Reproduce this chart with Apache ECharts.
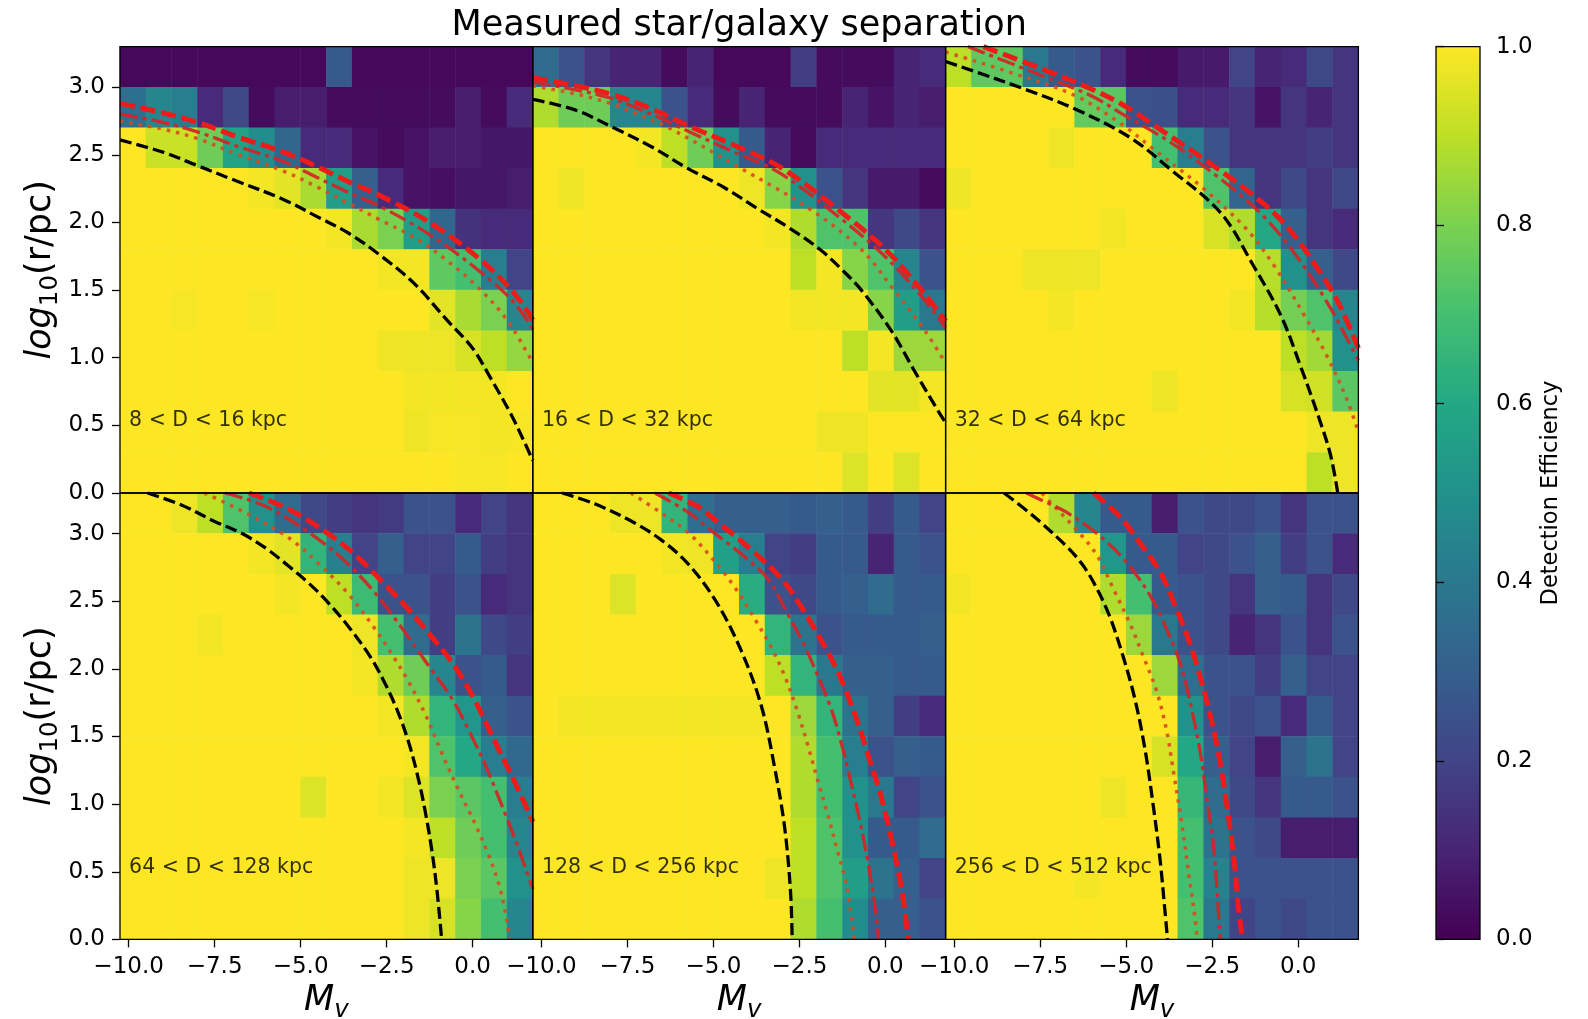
<!DOCTYPE html>
<html>
<head>
<meta charset="utf-8">
<script src="https://cdn.jsdelivr.net/npm/echarts@6/dist/echarts.min.js"></script>
<style>
  html, body { margin: 0; padding: 0; background: #fff; }
  #chart { width: 1588px; height: 1019px; }
</style>
</head>
<body>
<div id="chart"></div>
<script>
// ---------------------------------------------------------------
// Detection efficiency of star/galaxy separation, six distance bins
// ---------------------------------------------------------------

// Tick labels
const xTickValues = [-10, -7.5, -5, -2.5, 0];
const yTickValues = [0, 0.5, 1, 1.5, 2, 2.5, 3];
const cbarTickValues = [0, 0.2, 0.4, 0.6, 0.8, 1];

// Bin centres (Mv columns, log10 r rows)
const mvBinCenters = [-9.875, -9.125, -8.375, -7.625, -6.875, -6.125, -5.375, -4.625,
                      -3.875, -3.125, -2.375, -1.625, -0.875, -0.125, 0.625, 1.375];
const logrBinCenters = [0.15, 0.45, 0.75, 1.05, 1.35, 1.65, 1.95, 2.25, 2.55, 2.85, 3.15];

const panelLabels = ['8 < D < 16 kpc', '16 < D < 32 kpc', '32 < D < 64 kpc',
                     '64 < D < 128 kpc', '128 < D < 256 kpc', '256 < D < 512 kpc'];

// Efficiency grids, one row per log10 r bin, listed from the top bin (3.0-3.3) down to (0.0-0.3)
const effD8 = [
  [0.02,0.02,0.02,0.02,0.02,0.02,0.02,0.02,0.28,0.02,0.02,0.02,0.02,0.02,0.02,0.02],
  [0.36,0.45,0.42,0.12,0.22,0.03,0.08,0.08,0.03,0.03,0.03,0.03,0.03,0.08,0.03,0.12],
  [1.00,0.92,0.92,0.78,0.58,0.48,0.33,0.12,0.12,0.05,0.03,0.05,0.08,0.08,0.06,0.06],
  [1,1,1,1,1,0.985,0.96,0.87,0.55,0.30,0.12,0.05,0.04,0.06,0.06,0.08],
  [1,1,1,1,1,1,1,1,0.985,0.87,0.80,0.55,0.33,0.14,0.12,0.12],
  [1,1,1,1,1,1,1,1,1,1,0.985,0.985,0.75,0.70,0.42,0.20],
  [1,1,0.99,1,1,0.99,1,1,1,1,1,1,0.96,0.87,0.80,0.45],
  [1,1,1,1,1,1,1,1,1,1,0.98,0.975,0.975,0.94,0.90,0.84],
  [1,1,1,1,1,1,1,1,1,1,1,0.985,0.985,0.985,0.985,1],
  [1,1,1,1,1,1,1,1,1,1,1,0.98,0.99,0.99,0.985,0.99],
  [1,1,1,1,1,1,1,1,1,1,1,1,1,0.99,0.99,1]
];
const effD16 = [
  [0.35,0.25,0.15,0.10,0.10,0.03,0.10,0.02,0.02,0.02,0.18,0.03,0.03,0.03,0.10,0.12],
  [0.88,0.78,0.78,0.45,0.45,0.25,0.12,0.03,0.10,0.03,0.03,0.03,0.10,0.05,0.10,0.08],
  [1,1,1,1,0.985,0.90,0.78,0.50,0.28,0.10,0.03,0.12,0.12,0.12,0.12,0.12],
  [1,0.975,1,1,1,1,1,1,0.975,0.82,0.50,0.25,0.15,0.07,0.07,0.03],
  [1,1,1,1,1,1,1,1,1,0.985,0.88,0.72,0.72,0.16,0.22,0.15],
  [1,1,1,1,1,1,1,1,1,1,0.90,0.985,0.82,0.72,0.45,0.25],
  [1,1,1,1,1,1,1,1,1,1,0.985,0.985,0.985,0.82,0.55,0.40],
  [1,1,1,1,1,1,1,1,1,1,1,1,0.90,0.985,0.85,0.85],
  [1,1,1,1,1,1,1,1,1,1,1,1,1,0.96,0.96,0.985],
  [1,1,1,1,1,1,1,1,1,1,1,0.98,0.98,1,1,1],
  [1,1,1,1,1,1,1,1,1,1,1,1,0.95,1,0.95,1]
];
const effD32 = [
  [0.90,0.75,0.75,0.40,0.28,0.25,0.12,0.03,0.03,0.07,0.07,0.20,0.10,0.12,0.22,0.15],
  [1,1,1,1,1,0.76,0.74,0.25,0.24,0.12,0.12,0.15,0.05,0.15,0.10,0.15],
  [1,1,1,1,0.975,1,1,1,0.70,0.42,0.25,0.15,0.15,0.15,0.18,0.15],
  [0.975,1,1,1,1,1,1,1,1,1,0.72,0.32,0.15,0.22,0.15,0.22],
  [1,1,1,1,1,1,0.985,1,1,1,0.94,0.88,0.60,0.30,0.15,0.12],
  [1,1,1,0.975,0.975,0.975,1,1,1,1,1,1,0.89,0.50,0.30,0.22],
  [1,1,1,1,0.985,1,1,1,1,1,1,0.985,0.89,0.79,0.72,0.45],
  [1,1,1,1,1,1,1,1,1,1,1,1,1,0.90,0.86,0.50],
  [1,1,1,1,1,1,1,1,0.975,1,1,1,1,0.94,0.93,0.74],
  [1,1,1,1,1,1,1,1,1,1,1,1,1,1,0.975,0.975],
  [1,1,1,1,1,1,1,1,1,1,1,1,1,1,0.90,0.975]
];
const effD64 = [
  [1,1,0.975,0.90,0.72,0.50,0.35,0.22,0.18,0.15,0.17,0.25,0.25,0.12,0.20,0.15],
  [1,1,1,1,1,0.985,0.96,0.65,0.43,0.20,0.30,0.20,0.20,0.28,0.18,0.15],
  [1,1,1,1,1,1,0.985,1,0.90,0.68,0.25,0.25,0.18,0.25,0.12,0.15],
  [1,1,1,0.985,1,1,1,1,1,0.975,0.70,0.35,0.18,0.38,0.22,0.18],
  [1,1,1,1,1,1,1,1,1,0.985,0.88,0.78,0.45,0.25,0.28,0.15],
  [1,1,1,1,1,1,1,1,1,1,0.985,0.88,0.65,0.52,0.30,0.25],
  [1,1,1,1,1,1,1,1,1,1,1,0.985,0.72,0.60,0.42,0.34],
  [1,1,1,1,1,1,1,0.95,1,1,0.985,0.95,0.80,0.74,0.70,0.42],
  [1,1,1,1,1,1,1,1,1,1,1,0.985,0.90,0.78,0.70,0.45],
  [1,1,1,1,1,1,1,1,1,1,1,0.975,0.975,0.80,0.74,0.50],
  [1,1,1,1,1,1,1,1,1,1,1,0.975,0.94,0.82,0.70,0.46]
];
const effD128 = [
  [1,1,1,0.975,0.975,0.65,0.36,0.30,0.30,0.30,0.28,0.30,0.28,0.18,0.28,0.20],
  [1,1,1,1,1,0.985,0.98,0.56,0.42,0.20,0.18,0.28,0.28,0.10,0.28,0.25],
  [1,1,1,0.95,1,1,1,1,0.62,0.25,0.22,0.28,0.30,0.35,0.28,0.28],
  [1,1,1,1,1,1,1,1,1,0.65,0.38,0.25,0.28,0.28,0.28,0.30],
  [1,1,1,1,1,1,1,1,1,0.90,0.65,0.40,0.30,0.30,0.28,0.28],
  [1,0.985,0.985,0.985,0.985,0.985,0.985,0.985,0.985,1,0.85,0.65,0.38,0.30,0.18,0.12],
  [1,1,1,1,1,1,1,1,1,1,0.88,0.70,0.42,0.25,0.30,0.28],
  [1,1,1,1,1,1,1,1,1,1,0.88,0.70,0.50,0.40,0.20,0.25],
  [1,1,1,1,1,1,1,1,1,1,0.90,0.72,0.50,0.28,0.28,0.35],
  [1,1,1,1,1,1,1,1,1,0.975,0.90,0.72,0.55,0.38,0.30,0.20],
  [1,1,1,1,1,1,1,1,1,1,0.88,0.70,0.48,0.30,0.30,0.25]
];
const effD256 = [
  [1,1,1,1,0.88,0.45,0.28,0.28,0.08,0.25,0.22,0.22,0.25,0.15,0.25,0.25],
  [1,1,1,1,1,1,0.52,0.28,0.28,0.20,0.22,0.25,0.30,0.18,0.25,0.12],
  [0.985,1,1,1,1,1,0.88,0.70,0.28,0.25,0.22,0.15,0.30,0.28,0.15,0.22],
  [1,1,1,1,1,1,1,0.85,0.40,0.25,0.22,0.10,0.15,0.25,0.15,0.25],
  [1,1,1,1,1,1,1,1,0.85,0.36,0.25,0.25,0.18,0.30,0.20,0.20],
  [1,1,1,1,1,1,1,1,1,0.50,0.25,0.22,0.25,0.12,0.28,0.20],
  [1,1,1,1,1,1,1,1,0.94,0.60,0.30,0.20,0.08,0.30,0.38,0.20],
  [1,1,1,1,1,1,0.975,1,1,0.66,0.35,0.22,0.15,0.28,0.28,0.25],
  [1,1,1,1,1,1,1,1,1,0.70,0.38,0.25,0.22,0.08,0.08,0.08],
  [1,1,1,1,1,0.985,1,1,1,0.70,0.44,0.25,0.25,0.25,0.25,0.25],
  [1,1,1,1,1,1,1,1,1,0.72,0.40,0.20,0.25,0.22,0.25,0.25]
];

// Limit curves per distance bin, as [Mv, log10 r] points
const blackDashed = [
  [[-10.25,2.61],[-9,2.52],[-8,2.42],[-7,2.32],[-5.5,2.17],[-4.5,2.04],[-3.6,1.92],[-2.7,1.76],[-1.7,1.55],[-0.75,1.28],[0,1.07],[0.5,0.86],[1.1,0.59],[1.5,0.38],[1.75,0.24]],
  [[-10.25,2.91],[-9,2.83],[-7.9,2.7],[-6.8,2.56],[-5.75,2.4],[-4.7,2.26],[-3.7,2.1],[-2.8,1.96],[-1.9,1.8],[-1.3,1.66],[-0.7,1.5],[0.17,1.2],[0.85,0.9],[1.55,0.6],[1.75,0.52]],
  [[-10.25,3.19],[-9.45,3.12],[-8,2.99],[-6.5,2.84],[-4.9,2.63],[-3.7,2.39],[-2.25,2.07],[-1.3,1.68],[-0.5,1.31],[0.05,0.95],[0.65,0.52],[0.95,0.27],[1.15,0.0]],
  [[-9.45,3.3],[-8.45,3.21],[-7.5,3.09],[-6.7,3.0],[-6.0,2.89],[-5.35,2.76],[-4.75,2.63],[-4.2,2.49],[-3.6,2.31],[-3.0,2.1],[-2.6,1.92],[-2.2,1.7],[-1.85,1.45],[-1.57,1.18],[-1.38,0.95],[-1.18,0.65],[-1.03,0.35],[-0.9,0.0]],
  [[-9.4,3.3],[-8.45,3.22],[-7.3,3.08],[-6.5,2.95],[-5.75,2.78],[-4.95,2.51],[-4.2,2.14],[-3.6,1.72],[-3.22,1.27],[-2.93,0.83],[-2.76,0.36],[-2.71,0.0]],
  [[-8.55,3.3],[-7.7,3.13],[-6.75,2.91],[-6.3,2.78],[-5.95,2.64],[-5.5,2.4],[-5.1,2.1],[-4.75,1.78],[-4.45,1.4],[-4.22,1.0],[-4.02,0.6],[-3.88,0.23],[-3.8,0.0]]
];
const redDotted = [
  [[-10.25,2.75],[-9,2.69],[-8,2.62],[-6.8,2.5],[-5.5,2.38],[-4.5,2.26],[-3.6,2.14],[-2.7,2.02],[-1.7,1.89],[-0.75,1.72],[0.2,1.51],[1.0,1.28],[1.58,1.04],[1.75,0.96]],
  [[-10.25,3.01],[-9,2.95],[-8,2.88],[-7.2,2.8],[-6.3,2.7],[-4.2,2.4],[-2.2,2.1],[-0.7,1.8],[0.25,1.5],[1.15,1.2],[1.75,0.96]],
  [[-10.25,3.26],[-8.5,3.12],[-6.5,2.94],[-5.1,2.72],[-4.2,2.54],[-2.75,2.25],[-1.5,1.95],[-0.7,1.68],[0.14,1.33],[0.84,1.01],[1.42,0.69],[1.75,0.45]],
  [[-7.8,3.3],[-6.5,3.14],[-5.35,2.97],[-4.4,2.76],[-3.6,2.55],[-2.85,2.3],[-2.35,2.11],[-1.85,1.9],[-1.35,1.65],[-0.9,1.38],[-0.4,1.1],[0.08,0.85],[0.47,0.62],[0.76,0.41],[0.95,0.2],[1.08,0.0]],
  [[-7.4,3.3],[-6.5,3.15],[-5.7,3.0],[-4.95,2.79],[-4.4,2.61],[-3.8,2.37],[-3.3,2.15],[-2.9,1.93],[-2.55,1.68],[-2.25,1.43],[-1.95,1.16],[-1.65,0.9],[-1.4,0.66],[-1.18,0.46],[-1.04,0.26],[-0.9,0.0]],
  [[-7.45,3.3],[-7.2,3.23],[-6.45,3.03],[-5.85,2.84],[-5.37,2.59],[-4.9,2.34],[-4.5,2.09],[-4.12,1.84],[-3.83,1.55],[-3.62,1.23],[-3.38,0.85],[-3.18,0.48],[-3.0,0.16],[-2.94,0.0]]
];
const redDashDot = [
  [[-10.25,2.80],[-9,2.74],[-8,2.67],[-6.8,2.56],[-5.5,2.45],[-4.5,2.33],[-3.6,2.22],[-2.7,2.12],[-1.25,1.91],[0.2,1.64],[1.2,1.41],[1.75,1.21]],
  [[-10.25,3.04],[-9,2.98],[-8,2.92],[-6.8,2.8],[-5.7,2.67],[-4.4,2.52],[-3.1,2.37],[-1.5,2.07],[-0.1,1.77],[1.0,1.47],[1.75,1.22]],
  [[-9.6,3.3],[-7.5,3.09],[-6.05,2.94],[-5.1,2.8],[-3.7,2.59],[-2.25,2.32],[-1.1,2.07],[-0.13,1.78],[0.84,1.41],[1.4,1.15],[1.75,0.98]],
  [[-7.2,3.3],[-6.0,3.2],[-4.6,2.98],[-3.6,2.77],[-2.8,2.55],[-2.05,2.3],[-1.3,2.03],[-0.6,1.78],[-0.1,1.54],[0.4,1.27],[0.85,0.99],[1.25,0.73],[1.6,0.48],[1.75,0.37]],
  [[-6.7,3.3],[-5.75,3.16],[-4.95,3.0],[-4.1,2.83],[-3.4,2.66],[-2.85,2.41],[-2.35,2.17],[-1.95,1.94],[-1.57,1.7],[-1.28,1.45],[-0.99,1.15],[-0.72,0.85],[-0.5,0.56],[-0.32,0.28],[-0.2,0.0]],
  [[-7.9,3.3],[-7.4,3.24],[-6.75,3.16],[-5.75,2.98],[-5.0,2.79],[-4.3,2.54],[-3.82,2.29],[-3.43,2.04],[-3.14,1.75],[-2.86,1.4],[-2.66,1.05],[-2.47,0.71],[-2.36,0.36],[-2.27,0.0]]
];
const redDashed = [
  [[-10.25,2.88],[-9,2.81],[-8,2.74],[-6.8,2.63],[-5.5,2.52],[-4.5,2.41],[-3.6,2.3],[-2.7,2.2],[-1.25,2.0],[0.2,1.73],[1.2,1.48],[1.75,1.28]],
  [[-10.25,3.07],[-9,3.01],[-8,2.95],[-6.8,2.84],[-5.6,2.7],[-4.3,2.56],[-3.0,2.4],[-1.4,2.1],[0,1.8],[1.05,1.5],[1.75,1.27]],
  [[-9.15,3.3],[-7.5,3.14],[-6.05,2.99],[-5.1,2.87],[-4.2,2.72],[-2.75,2.47],[-1.3,2.2],[-0.33,1.97],[0.64,1.63],[1.22,1.38],[1.75,1.07]],
  [[-6.5,3.3],[-5.35,3.18],[-4.2,3.0],[-3.4,2.84],[-2.65,2.65],[-1.9,2.45],[-1.2,2.24],[-0.55,2.03],[0,1.8],[0.35,1.62],[0.75,1.41],[1.25,1.15],[1.75,0.87]],
  [[-6.3,3.3],[-5.45,3.2],[-4.95,3.1],[-3.9,2.88],[-3.0,2.66],[-2.45,2.46],[-2.0,2.27],[-1.5,2.04],[-1.15,1.84],[-0.8,1.6],[-0.5,1.36],[-0.15,1.08],[0.15,0.77],[0.4,0.47],[0.55,0.24],[0.66,0.0]],
  [[-5.95,3.3],[-5.2,3.13],[-4.6,2.93],[-4.0,2.71],[-3.55,2.45],[-3.15,2.19],[-2.85,1.94],[-2.55,1.65],[-2.3,1.35],[-2.08,1.0],[-1.88,0.62],[-1.74,0.24],[-1.62,0.0]]
];

// ---------------------------------------------------------------
// Layout and styling
// ---------------------------------------------------------------
const FONT = 'DejaVu Sans';
const VIRIDIS = ['#440154', '#482475', '#414487', '#355f8d', '#2a788e', '#21918c',
                 '#22a884', '#44bf70', '#7ad151', '#bddf26', '#fde725'];

const PANEL_W = 412.8, PANEL_H = 446.4, LEFT0 = 120, TOP0 = 46.6;
const CBAR = { left: 1436, top: TOP0, width: 44, height: 2 * PANEL_H };
const MV_RANGE = [-10.25, 1.75];
const LOGR_RANGE = [0, 3.3];
const LABEL_ANCHOR = [-10, 0.5];

const effPanels = [effD8, effD16, effD32, effD64, effD128, effD256];

const curveStyles = [
  { curves: blackDashed, color: '#000000', width: 3.3, dash: [12, 5] },
  { curves: redDotted,   color: 'rgba(218,72,30,0.9)', width: 3.5, dash: [3.5, 6] },
  { curves: redDashDot,  color: 'rgba(212,36,38,0.92)', width: 3.3, dash: [18, 5, 4, 5] },
  { curves: redDashed,   color: '#ee1b1b', width: 5, dash: [15, 6] }
];

const fmtTick = v => (v < 0 ? '\u2212' : '') + Math.abs(v).toFixed(1);

const labelText = { fontFamily: FONT, fontSize: 23, color: '#000' };
const tickLine = { color: '#000', width: 1.3 };

const yName = '{i|log}{s|10}{n|(r/pc)}';
const xName = '{i|M}{s|v}';
const mathRich = {
  i: { fontFamily: FONT, fontStyle: 'italic', fontSize: 35, lineHeight: 44, color: '#000' },
  n: { fontFamily: FONT, fontSize: 35, lineHeight: 44, color: '#000' },
  s: { fontFamily: FONT, fontSize: 24.5, lineHeight: 22, verticalAlign: 'bottom', color: '#000' }
};
const mathRichItalicSub = Object.assign({}, mathRich, {
  s: Object.assign({}, mathRich.s, { fontStyle: 'italic' })
});

const grids = [], xAxes = [], yAxes = [], series = [], heatmapIdx = [];

for (let p = 0; p < 6; p++) {
  const row = Math.floor(p / 3), col = p % 3;
  grids.push({
    left: LEFT0 + col * PANEL_W, top: TOP0 + row * PANEL_H,
    width: PANEL_W, height: PANEL_H,
    containLabel: false, outerBoundsMode: 'none',
    show: true, borderColor: '#000', borderWidth: 1.3,
    backgroundColor: 'transparent', z: 10
  });

  const bottomRow = row === 1, leftCol = col === 0;

  // value axes (ticks, labels, curves)
  xAxes.push({
    type: 'value', gridIndex: p, position: 'bottom',
    min: MV_RANGE[0], max: MV_RANGE[1],
    splitLine: { show: false },
    axisLine: { show: false, onZero: false },
    axisTick: { show: bottomRow, customValues: xTickValues, length: 8, lineStyle: tickLine },
    axisLabel: Object.assign({ show: bottomRow, customValues: xTickValues, margin: 16, formatter: fmtTick }, labelText),
    name: bottomRow ? xName : '',
    nameLocation: 'middle', nameGap: 40,
    nameTextStyle: { fontFamily: FONT, fontSize: 34, color: '#000', rich: mathRichItalicSub },
    z: 10
  });
  yAxes.push({
    type: 'value', gridIndex: p, position: 'left',
    min: LOGR_RANGE[0], max: LOGR_RANGE[1],
    splitLine: { show: false },
    axisLine: { show: false, onZero: false },
    axisTick: { show: leftCol, customValues: yTickValues, length: 8, lineStyle: tickLine },
    axisLabel: Object.assign({ show: leftCol, customValues: yTickValues, margin: 15,
      formatter: v => v.toFixed(1) }, labelText),
    name: leftCol ? yName : '',
    nameLocation: 'middle', nameRotate: 90, nameGap: 57,
    nameTextStyle: { fontFamily: FONT, fontSize: 35, color: '#000', rich: mathRich },
    z: 10
  });

  // category axes holding the efficiency bins
  xAxes.push({ type: 'category', gridIndex: p, position: 'top', data: mvBinCenters, show: false });
  yAxes.push({ type: 'category', gridIndex: p, position: 'right', data: logrBinCenters, show: false });

  const cells = [];
  effPanels[p].forEach((vals, r) => {
    vals.forEach((v, c) => cells.push([c, logrBinCenters.length - 1 - r, v]));
  });
  heatmapIdx.push(series.length);
  series.push({
    type: 'heatmap', xAxisIndex: 2 * p + 1, yAxisIndex: 2 * p + 1,
    data: cells, progressive: 0, silent: true,
    itemStyle: { borderWidth: 0 }, z: 1
  });

  curveStyles.forEach(st => {
    series.push({
      type: 'line', xAxisIndex: 2 * p, yAxisIndex: 2 * p,
      data: st.curves[p], smooth: 0.35, symbol: 'none', silent: true, clip: true,
      lineStyle: { color: st.color, width: st.width, type: st.dash, cap: 'butt' },
      z: 3
    });
  });

  series.push({
    type: 'scatter', xAxisIndex: 2 * p, yAxisIndex: 2 * p,
    data: [LABEL_ANCHOR], symbolSize: 1, silent: true,
    itemStyle: { color: 'rgba(0,0,0,0)' },
    label: {
      show: true, position: 'right', distance: 0, offset: [0, -4.5],
      formatter: panelLabels[p], fontFamily: FONT, fontSize: 20.5, color: '#000'
    },
    z: 4
  });
}

// colour bar
grids.push({
  left: CBAR.left, top: CBAR.top, width: CBAR.width, height: CBAR.height,
  containLabel: false, outerBoundsMode: 'none',
  show: true, borderColor: '#000', borderWidth: 1.3, backgroundColor: 'transparent', z: 10
});
xAxes.push({ type: 'value', gridIndex: 6, min: 0, max: 1, show: false });
yAxes.push({
  type: 'value', gridIndex: 6, position: 'right', min: 0, max: 1, interval: 0.2,
  splitLine: { show: false },
  axisLine: { show: false },
  axisTick: { show: true, customValues: cbarTickValues, length: 8, lineStyle: tickLine },
  axisLabel: Object.assign({ customValues: cbarTickValues, margin: 16,
    formatter: v => v.toFixed(1) }, labelText),
  name: 'Detection Efficiency', nameLocation: 'middle', nameRotate: 90, nameGap: 60,
  nameTextStyle: { fontFamily: FONT, fontSize: 22.5, color: '#000' },
  z: 10
});

const chart = echarts.init(document.getElementById('chart'), null, { renderer: 'canvas' });
chart.setOption({
  backgroundColor: '#ffffff',
  animation: false,
  title: {
    text: 'Measured star/galaxy separation',
    left: (LEFT0 + LEFT0 + 3 * PANEL_W) / 2, top: 8, padding: 0, textAlign: 'center',
    textStyle: { fontFamily: FONT, fontSize: 35, fontWeight: 'normal', color: '#000' }
  },
  grid: grids,
  xAxis: xAxes,
  yAxis: yAxes,
  visualMap: {
    type: 'continuous', min: 0, max: 1, dimension: 2, show: false,
    seriesIndex: heatmapIdx,
    inRange: { color: VIRIDIS }
  },
  graphic: [{
    type: 'rect', silent: true, z: 0,
    shape: { x: CBAR.left, y: CBAR.top, width: CBAR.width, height: CBAR.height },
    style: {
      fill: new echarts.graphic.LinearGradient(0, 1, 0, 0,
        VIRIDIS.map((c, i) => ({ offset: i / (VIRIDIS.length - 1), color: c })))
    }
  }],
  series: series
});
</script>
</body>
</html>
